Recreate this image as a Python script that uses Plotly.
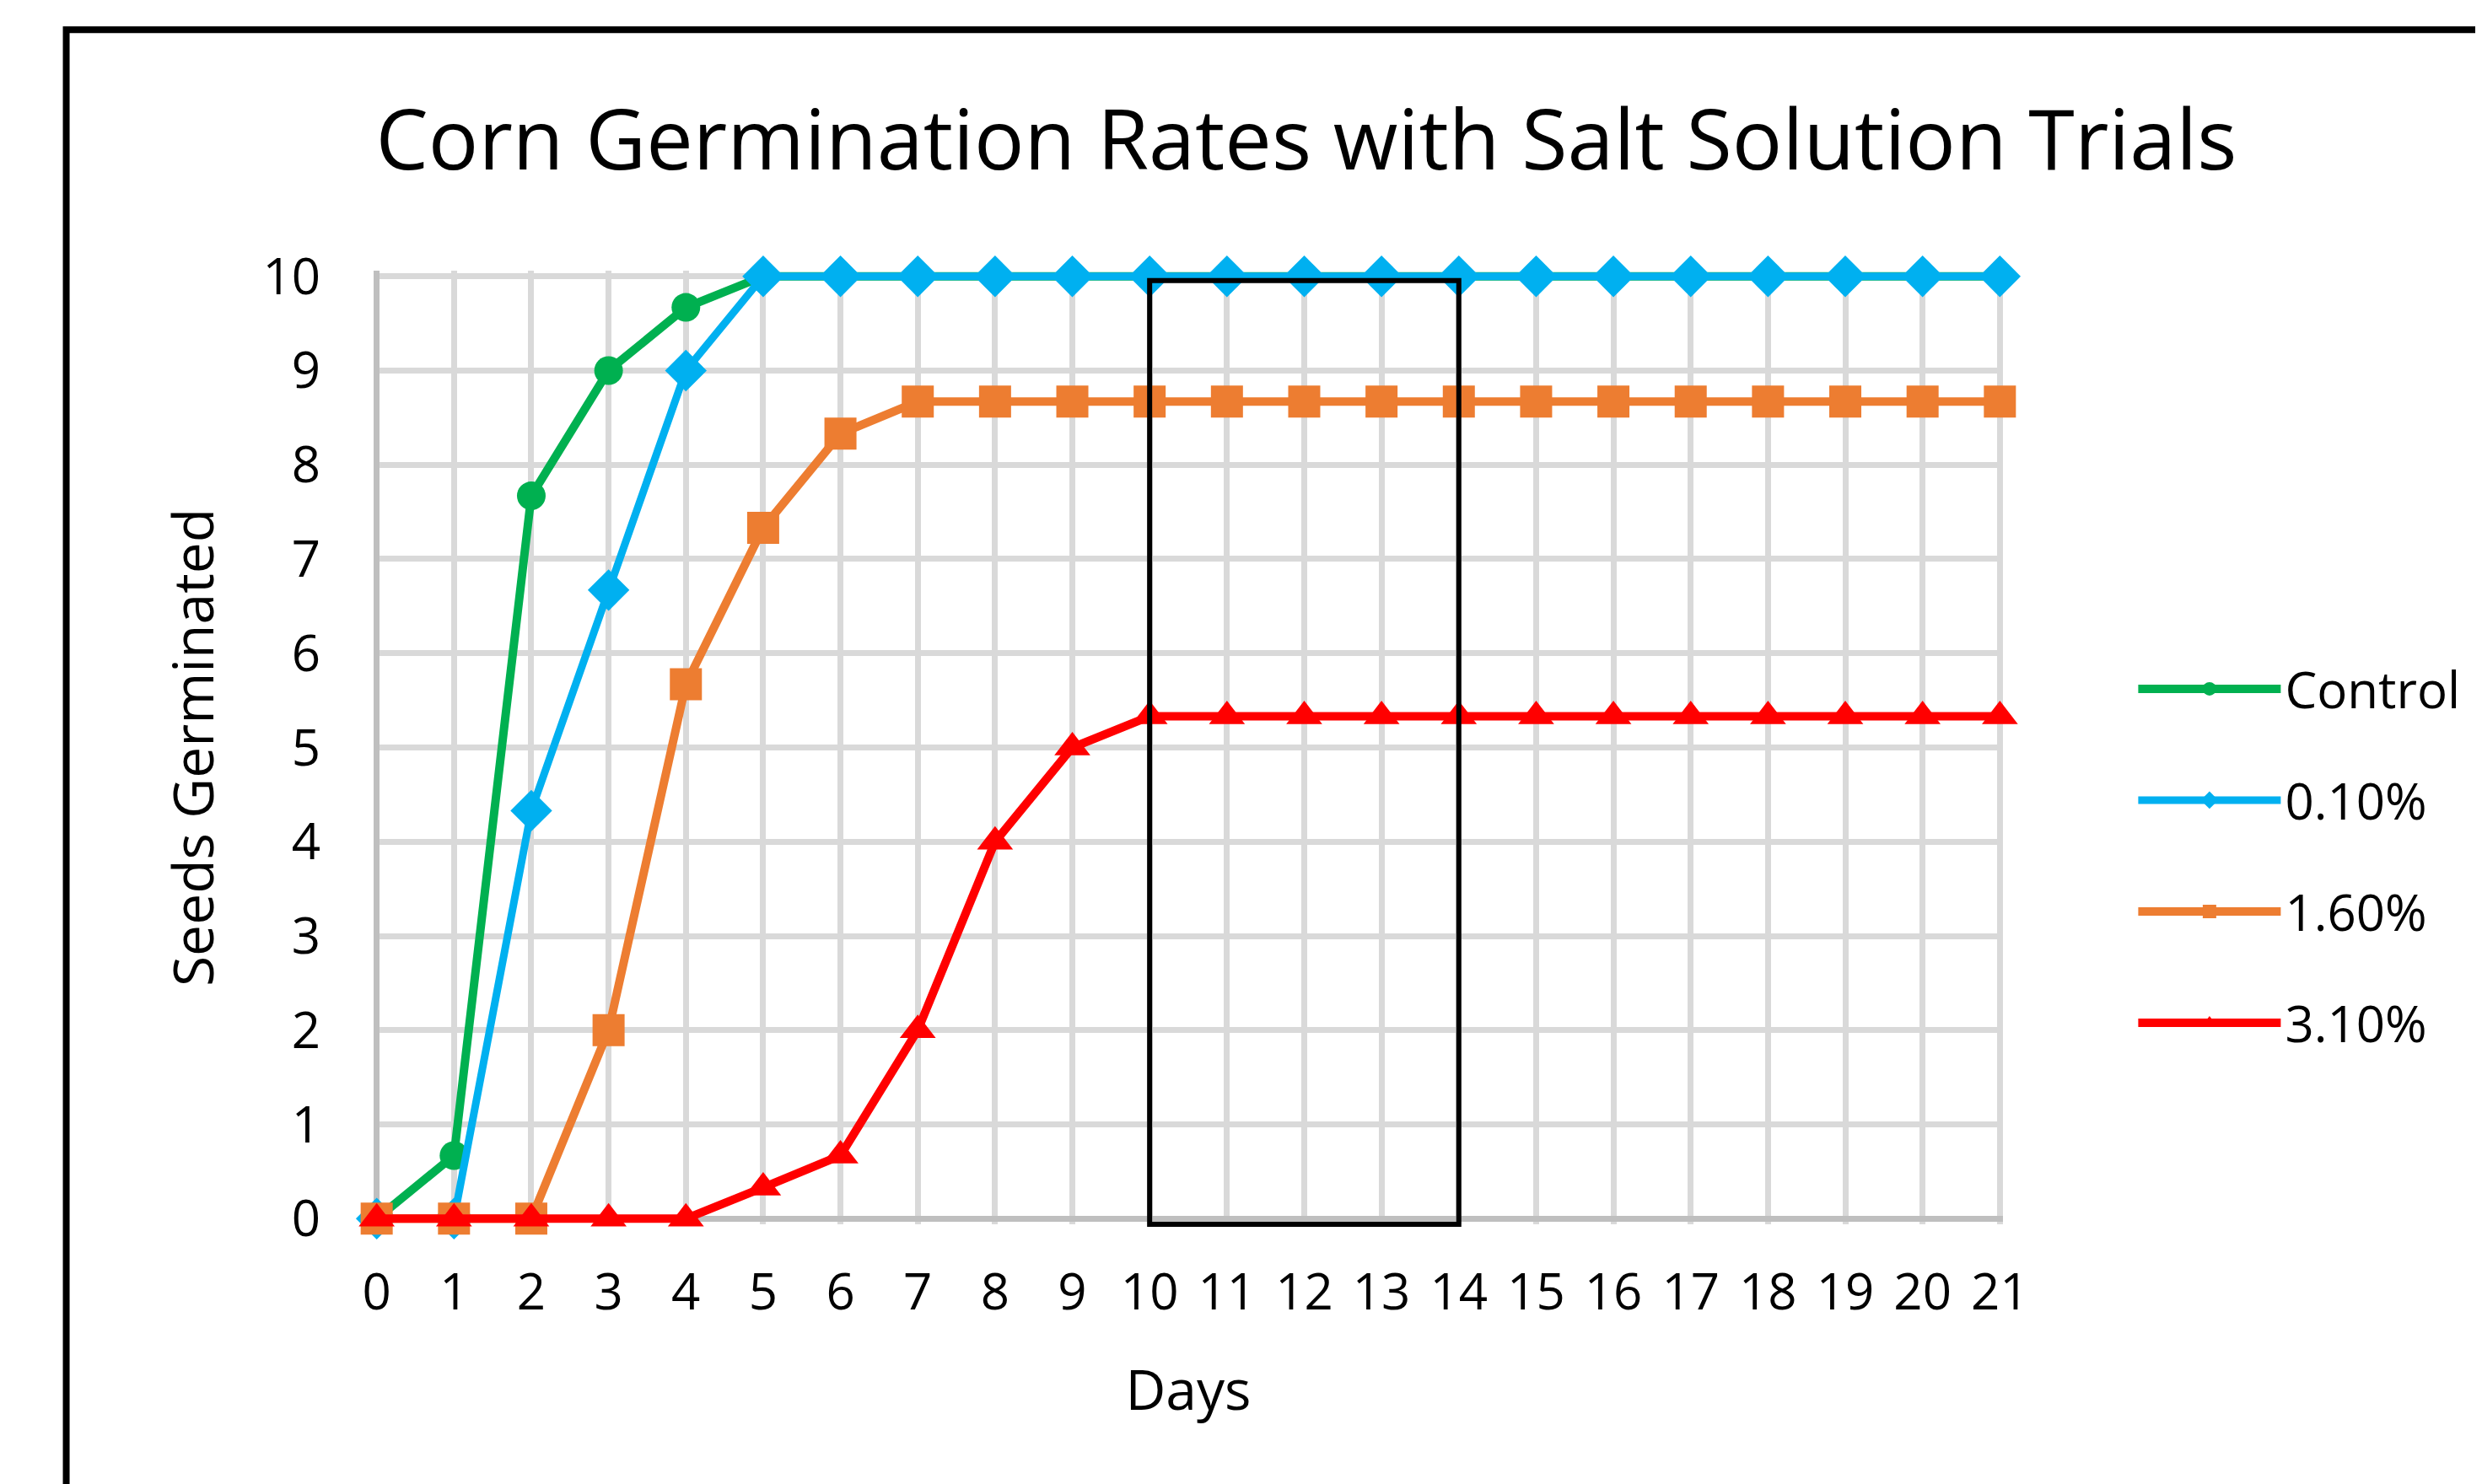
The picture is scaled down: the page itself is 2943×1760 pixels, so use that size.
import plotly.graph_objects as go

# ---------------- data ----------------
days = [0, 1, 2, 3, 4, 5, 6, 7, 8, 9, 10, 11, 12, 13, 14, 15, 16, 17, 18, 19, 20, 21]
control = [0, 0.67, 7.67, 9, 9.67, 10, 10, 10, 10, 10, 10, 10, 10, 10, 10, 10, 10, 10, 10, 10, 10, 10]
salt_010 = [0, 0, 4.33, 6.67, 9, 10, 10, 10, 10, 10, 10, 10, 10, 10, 10, 10, 10, 10, 10, 10, 10, 10]
salt_160 = [0, 0, 0, 2, 5.67, 7.33, 8.33, 8.67, 8.67, 8.67, 8.67, 8.67, 8.67, 8.67, 8.67, 8.67,
            8.67, 8.67, 8.67, 8.67, 8.67, 8.67]
salt_310 = [0, 0, 0, 0, 0, 0.33, 0.67, 2, 4, 5, 5.33, 5.33, 5.33, 5.33, 5.33, 5.33, 5.33, 5.33,
            5.33, 5.33, 5.33, 5.33]
series_names = ["Control", "0.10%", "1.60%", "3.10%"]
y_ticks = [0, 1, 2, 3, 4, 5, 6, 7, 8, 9, 10]
highlight_days = [10, 14]

# ---------------- layout geometry ----------------
W, H = 2943, 1760
OFF = 8  # default page margin of the html body
PX_X0, PX_X21, PX_Y10, PX_Y0 = 447 - OFF, 2371 - OFF, 327.5 - OFF, 1445.5 - OFF
XPAD, YPAD = 0.04, 0.06
ppx = (PX_X21 - PX_X0) / 21
ppy = (PX_Y0 - PX_Y10) / 10
m_l = PX_X0 - XPAD * ppx
m_r = W - (PX_X21 + XPAD * ppx)
m_t = PX_Y10 - YPAD * ppy
m_b = H - (PX_Y0 + YPAD * ppy)
plot_w = W - m_l - m_r
plot_h = H - m_t - m_b
xr = [-XPAD, 21 + XPAD]
yr = [-YPAD, 10 + YPAD]


def xpaper(px):
    return (px - OFF - m_l) / plot_w


def ypaper(py):
    return (H - m_b - (py - OFF)) / plot_h


def xdom(v):
    return (v - xr[0]) / (xr[1] - xr[0])


def ydom(v):
    return (v - yr[0]) / (yr[1] - yr[0])


FONT = "Open Sans"
colors = ["#00B050", "#00B0F0", "#ED7D31", "#FF0000"]
symbols = ["circle", "diamond", "square", "triangle-up"]
msizes = [34, 38, 38, 37]
lwidths = [10, 9, 10, 10]
values = [control, salt_010, salt_160, salt_310]

fig = go.Figure()
for i, (name, vals) in enumerate(zip(series_names, values)):
    fig.add_trace(go.Scatter(
        x=days, y=vals, name=name, mode="lines+markers",
        line=dict(color=colors[i], width=lwidths[i]),
        marker=dict(symbol=symbols[i], size=msizes[i], color=colors[i], line=dict(width=0)),
        cliponaxis=False, legendgroup=name,
    ))

# highlight rectangle (days 10-14)
fig.add_shape(type="rect", xref="x domain", yref="y domain",
              x0=xdom(highlight_days[0]), x1=xdom(highlight_days[1]),
              y0=ydom(-0.06), y1=ydom(9.955),
              line=dict(color="black", width=6), fillcolor="rgba(0,0,0,0)", layer="above")

# outer chart border (extends past the picture at right and bottom)
fig.add_shape(type="rect", xref="paper", yref="paper",
              x0=xpaper(79), x1=xpaper(3100), y0=ypaper(1900), y1=ypaper(35),
              line=dict(color="black", width=8), fillcolor="rgba(0,0,0,0)", layer="above")

fig.update_layout(
    width=W, height=H,
    margin=dict(l=m_l, r=m_r, t=m_t, b=m_b, autoexpand=False),
    paper_bgcolor="white", plot_bgcolor="white",
    font=dict(family=FONT, color="black", size=60),
    title=dict(text="Corn Germination Rates with Salt Solution Trials",
               x=(1549 - OFF) / W, xanchor="center", xref="container",
               y=1 - (166 - OFF) / H, yanchor="middle", yref="container",
               font=dict(family=FONT, size=99, color="black")),
    showlegend=True,
    legend=dict(x=xpaper(2530), xanchor="left", y=ypaper(1015), yanchor="middle",
                font=dict(family=FONT, size=60, color="black"),
                itemwidth=169, tracegroupgap=51, traceorder="grouped",
                bgcolor="rgba(0,0,0,0)"),
)
fig.update_xaxes(range=xr, tickvals=days, ticktext=[str(d) for d in days],
                 showgrid=True, gridcolor="#D9D9D9", gridwidth=7,
                 zeroline=True, zerolinecolor="#BFBFBF", zerolinewidth=7,
                 showline=False, ticks="", ticklabelstandoff=40,
                 tickfont=dict(family=FONT, size=60, color="black"),
                 title=dict(text="Days", font=dict(family=FONT, size=66, color="black"), standoff=55))
fig.update_yaxes(range=yr, tickvals=y_ticks,
                 showgrid=True, gridcolor="#D9D9D9", gridwidth=7,
                 zeroline=True, zerolinecolor="#BFBFBF", zerolinewidth=7,
                 showline=False, ticks="", ticklabelstandoff=62,
                 tickfont=dict(family=FONT, size=60, color="black"),
                 title=dict(text="Seeds Germinated", font=dict(family=FONT, size=66, color="black"), standoff=36))

fig.write_html("out.html")
